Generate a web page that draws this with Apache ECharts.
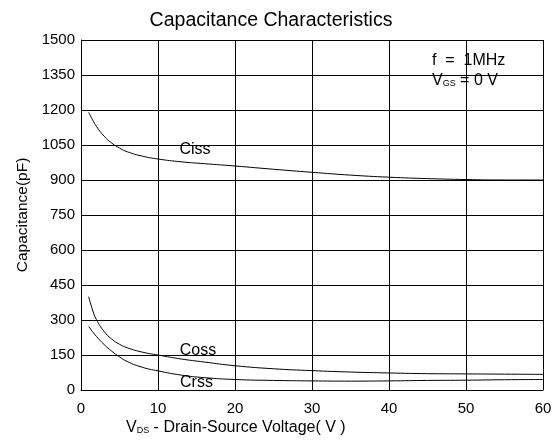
<!DOCTYPE html>
<html>
<head>
<meta charset="UTF-8">
<title>Capacitance Characteristics</title>
<script src="https://cdn.jsdelivr.net/npm/echarts@6/dist/echarts.min.js"></script>
<style>
  body { margin: 0; background: #fff; }
  #chart { width: 558px; height: 444px; }
</style>
</head>
<body>
<div id="chart"></div>
<script>
// data
var vds  = [1, 1.5, 2, 3, 4, 5, 6, 8, 10, 13, 16, 20, 25, 30, 35, 40, 45, 50, 55, 60];
var ciss = [1190, 1158, 1130, 1088, 1058, 1037, 1021, 1002, 990, 978, 970, 960, 946, 933, 921, 912, 906, 902, 900, 900];
var coss = [400, 343, 302, 251, 218, 196, 181, 162, 150, 133, 120, 104, 91, 83, 77, 73, 70, 69, 68, 67];
var crss = [272, 250, 230, 195, 166, 142, 122, 97, 82, 64, 53, 45, 41, 39, 38, 39, 41, 42, 44, 45];
var labelPos = { Ciss: [14.8, 1030], Coss: [15.2, 170], Crss: [15, 30] };

var font = 'Liberation Sans, Arial, sans-serif';
var chart = echarts.init(document.getElementById('chart'));

function pairs(ys) {
  return vds.map(function (x, i) { return [x, ys[i]]; });
}

function curve(name, ys) {
  return {
    name: name,
    type: 'line',
    smooth: 0.5,
    symbol: 'none',
    lineStyle: { color: '#000', width: 1 },
    data: pairs(ys),
    markPoint: {
      symbol: 'circle',
      symbolSize: 0,
      label: { show: true, formatter: name, color: '#000', fontSize: 16, fontFamily: font },
      data: [{ coord: labelPos[name] }]
    }
  };
}

chart.setOption({
  animation: false,
  title: {
    text: 'Capacitance Characteristics',
    left: 266,
    textAlign: 'center',
    top: 6,
    textStyle: { color: '#000', fontSize: 19.5, fontWeight: 'normal', fontFamily: font }
  },
  grid: { left: 81, right: 15, top: 40, bottom: 54 },
  xAxis: {
    type: 'value',
    min: 0, max: 60, interval: 10,
    axisLine: { lineStyle: { color: '#000' } },
    axisTick: { show: false },
    axisLabel: { color: '#000', fontSize: 15, fontFamily: font, margin: 11 },
    splitLine: { lineStyle: { color: '#000', width: 1 } }
  },
  yAxis: {
    type: 'value',
    min: 0, max: 1500, interval: 150,
    name: 'Capacitance(pF)',
    nameLocation: 'middle',
    nameGap: 46,
    nameTextStyle: { color: '#000', fontSize: 15.5, fontFamily: font },
    axisLine: { show: true, lineStyle: { color: '#000' } },
    axisTick: { show: false },
    axisLabel: {
      color: '#000', fontSize: 15, fontFamily: font, margin: 6,
      formatter: function (v) { return String(v); }
    },
    splitLine: { lineStyle: { color: '#000', width: 1 } }
  },
  graphic: [
    {
      type: 'text', left: 432, top: 53,
      style: { text: 'f  =  1MHz', fill: '#000', font: '16px ' + font }
    },
    {
      type: 'text', left: 432, top: 73,
      style: {
        text: '{m|V}{s|GS}{m| = 0 V}',
        rich: {
          m: { fontSize: 16, fontFamily: font, fill: '#000' },
          s: { fontSize: 9, fontFamily: font, fill: '#000', padding: [6, 0, 0, 0] }
        }
      }
    },
    {
      type: 'text', left: 126, top: 420,
      style: {
        text: '{m|V}{s|DS}{m| - Drain-Source Voltage( V )}',
        rich: {
          m: { fontSize: 16, fontFamily: font, fill: '#000' },
          s: { fontSize: 9, fontFamily: font, fill: '#000', padding: [6, 0, 0, 0] }
        }
      }
    }
  ],
  series: [
    curve('Ciss', ciss),
    curve('Coss', coss),
    curve('Crss', crss)
  ]
});
</script>
</body>
</html>
